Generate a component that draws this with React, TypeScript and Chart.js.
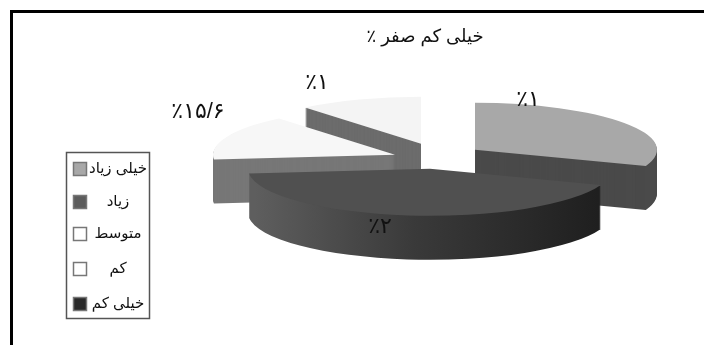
import { useEffect, useRef } from "react";
import { Chart, registerables } from "chart.js";

Chart.register(...registerables);

const categories = ["خیلی زیاد", "زیاد", "متوسط", "کم", "خیلی کم"];
const shares = [30.6, 42.8, 15.6, 11.0, 0];
const sliceLabels = ["٪۱", "٪۲", "٪۱۵/۶", "٪۱", ""];
const chartTitle = "خیلی کم صفر ٪";
const topColors = ["#a8a8a8", "#505050", "#f7f7f7", "#f4f4f4", "#2e2e2e"];
const sideColors = ["#4a4a4a", "#353535", "#777777", "#6c6c6c", "#222222"];
const swatchColors = ["#a8a8a8", "#5c5c5c", "#ffffff", "#ffffff", "#2a2a2a"];

const FONT = '"Liberation Sans", "DejaVu Sans", sans-serif';
const SQUASH = 0.258;
const DEPTH = 44;
// how far each slice is pulled out of the pie, on the page
const pullX = [50, 5, -30, -4, 0];
const pullY = [-9, 10, -4, -15, 0];
const labelSpots = [
  [528, 100],
  [380, 227],
  [198, 112],
  [317, 83],
];
const legendRows = [169, 202, 234, 269, 304];

const pie3d = {
  id: "pie3d",
  beforeDatasetsDraw(chart: any) {
    const ctx = chart.ctx;
    const arcs = chart.getDatasetMeta(0).data;
    const order = [3, 2, 0, 1];
    const g = ctx.createLinearGradient(250, 0, 600, 0);
    g.addColorStop(0, "#5e5e5e");
    g.addColorStop(0.45, "#3a3a3a");
    g.addColorStop(1, "#1e1e1e");
    for (const i of order) {
      const arc = arcs[i];
      const base = arc.options;
      const paint = (dy: number, color: any) => {
        ctx.save();
        ctx.translate(pullX[i], pullY[i] + dy + arc.y);
        ctx.scale(1, SQUASH);
        ctx.translate(0, -arc.y);
        arc.options = { ...base, backgroundColor: color };
        arc.draw(ctx);
        ctx.restore();
      };
      const wall = i === 1 ? g : sideColors[i];
      for (let d = DEPTH; d >= 1; d--) paint(d, wall);
      paint(0, base.backgroundColor);
      arc.options = base;
    }
    return false;
  },
  afterDraw(chart: any) {
    const ctx = chart.ctx;
    ctx.save();
    // frame
    ctx.fillStyle = "#000";
    ctx.fillRect(10, 10, 694, 3);
    ctx.fillRect(10, 10, 3, 335);
    // slice labels
    ctx.direction = "ltr";
    ctx.textAlign = "center";
    ctx.textBaseline = "middle";
    ctx.fillStyle = "#111";
    ctx.font = `22px ${FONT}`;
    labelSpots.forEach(([x, y], i) => ctx.fillText(sliceLabels[i], x, y));
    // legend
    ctx.strokeStyle = "#555";
    ctx.lineWidth = 1.5;
    ctx.fillStyle = "#fff";
    ctx.fillRect(66, 152, 84, 167);
    ctx.strokeRect(66.5, 152.5, 83, 166);
    ctx.font = `15px ${FONT}`;
    ctx.direction = "rtl";
    categories.forEach((name, i) => {
      const y = legendRows[i];
      ctx.fillStyle = swatchColors[i];
      ctx.strokeStyle = "#777";
      ctx.fillRect(73.5, y - 6.5, 13, 13);
      ctx.strokeRect(73.5, y - 6.5, 13, 13);
      ctx.fillStyle = "#111";
      ctx.fillText(name, 118, y);
    });
    ctx.restore();
  },
};

export default function App() {
  const ref = useRef<HTMLCanvasElement>(null);
  useEffect(() => {
    const chart = new Chart(ref.current as HTMLCanvasElement, {
      type: "pie",
      data: {
        labels: categories,
        datasets: [
          {
            data: shares,
            backgroundColor: topColors,
            borderWidth: 0,
          },
        ],
      },
      options: {
        animation: false,
        responsive: false,
        maintainAspectRatio: false,
        radius: 182,
        layout: { padding: { left: 146, bottom: 75 } },
        plugins: {
          legend: { display: false },
          tooltip: { enabled: false },
          title: {
            display: true,
            text: chartTitle,
            fullSize: false,
            color: "#111",
            font: { family: FONT, size: 18, weight: "normal" },
            padding: { top: 26, bottom: 0 },
          },
        },
      },
      plugins: [pie3d],
    } as any);
    return () => chart.destroy();
  }, []);
  return (
    <canvas
      ref={ref}
      width={704}
      height={345}
      style={{ position: "absolute", left: 0, top: 0, direction: "rtl", background: "#fff" }}
    />
  );
}
